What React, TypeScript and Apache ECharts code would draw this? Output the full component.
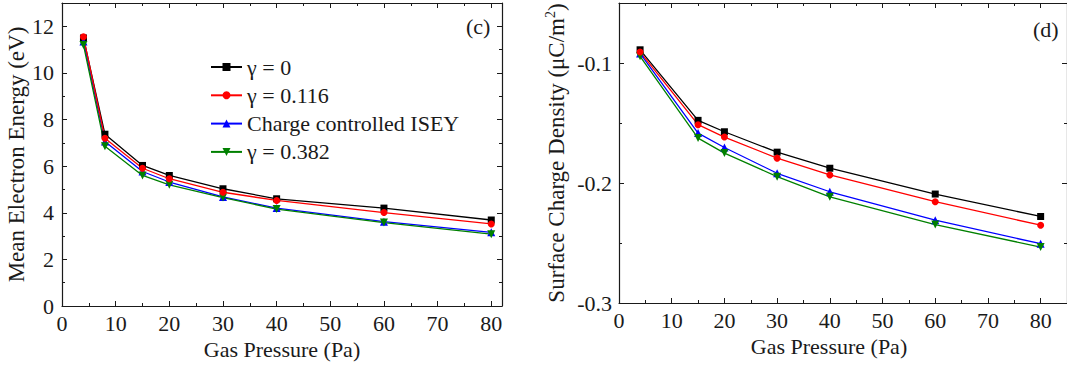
import React, { useEffect, useRef } from "react";
import * as echarts from "echarts";

const seriesNames = ["γ = 0", "γ = 0.116", "Charge controlled ISEY", "γ = 0.382"];
const seriesColors = ["#000000", "#ff0000", "#0000ff", "#008000"];
const seriesSymbols = ["rect", "circle", "triangle", "triangle"];
const seriesRotate = [0, 0, 0, 180];

// Panel (c): mean electron energy (eV)
const pressureC = [4, 8, 15, 20, 30, 40, 60, 80];
const energyG0 = [11.5, 7.37, 6.03, 5.6, 5.03, 4.6, 4.2, 3.69];
const energyG0116 = [11.55, 7.2, 5.91, 5.46, 4.88, 4.53, 4.01, 3.52];
const energyISEY = [11.35, 7.06, 5.77, 5.32, 4.68, 4.2, 3.62, 3.16];
const energyG0382 = [11.2, 6.85, 5.6, 5.2, 4.65, 4.16, 3.58, 3.08];

// Panel (d): surface charge density (µC/m²)
const pressureD = [4, 15, 20, 30, 40, 60, 80];
const chargeG0 = [-0.089, -0.1478, -0.1573, -0.1743, -0.1877, -0.2092, -0.2279];
const chargeG0116 = [-0.0908, -0.1514, -0.1617, -0.1793, -0.1933, -0.2156, -0.2352];
const chargeISEY = [-0.092, -0.1584, -0.1704, -0.1919, -0.2073, -0.231, -0.2506];
const chargeG0382 = [-0.0944, -0.1626, -0.1751, -0.1947, -0.2115, -0.2346, -0.2534];

const FONT = "Liberation Serif";
const INK = "#1a1a1a";

function axisSet(
  gridIndex: number,
  dim: "x" | "y",
  min: number,
  max: number,
  major: number,
  minor: number,
  opts: any
) {
  const isX = dim === "x";
  const posMain = isX ? "bottom" : "left";
  const posMirror = isX ? "top" : "right";
  const base = {
    type: "value",
    gridIndex,
    min,
    max,
    splitLine: { show: false },
    axisLine: { onZero: false, show: false, lineStyle: { color: INK, width: 1.2 } },
    axisTick: { inside: true, length: 5, lineStyle: { color: INK, width: 1 } },
    axisLabel: { show: false },
  };
  const mainAxis = {
    ...base,
    position: posMain,
    interval: major,
    axisLine: { ...base.axisLine, show: true },
    axisLabel: {
      show: true,
      fontFamily: FONT,
      fontSize: 22,
      color: INK,
      margin: opts.labelMargin,
      showMaxLabel: false,
      formatter: opts.formatter,
    },
    name: opts.name,
    nameLocation: "middle",
    nameGap: opts.nameGap,
    nameTextStyle: opts.nameTextStyle,
  };
  const mainMinor = {
    ...base,
    position: posMain,
    interval: minor,
    axisTick: { ...base.axisTick, length: 3 },
  };
  const mirror = {
    ...base,
    position: posMirror,
    interval: major,
    axisLine: { ...base.axisLine, show: true },
  };
  const mirrorMinor = {
    ...base,
    position: posMirror,
    interval: minor,
    axisTick: { ...base.axisTick, length: 3 },
  };
  return [mainAxis, mainMinor, mirror, mirrorMinor];
}

export default function App() {
  const ref = useRef<HTMLDivElement>(null);

  useEffect(() => {
    document.body.style.margin = "0";
    const chart = echarts.init(ref.current!, null, { renderer: "svg" });

    const titleStyle = { fontFamily: FONT, fontSize: 22, color: INK };

    const xAxes = [
      ...axisSet(0, "x", 0, 82, 10, 5, {
        name: "Gas Pressure (Pa)",
        nameGap: 30,
        labelMargin: 6,
        nameTextStyle: titleStyle,
      }),
      ...axisSet(1, "x", 0, 85, 10, 5, {
        name: "Gas Pressure (Pa)",
        nameGap: 30,
        labelMargin: 6,
        nameTextStyle: { ...titleStyle, padding: [0, 28, 0, 0] },
      }),
    ];
    const yAxes = [
      ...axisSet(0, "y", 0, 13, 2, 1, {
        name: "Mean Electron Energy (eV)",
        nameGap: 31,
        labelMargin: 8,
        nameTextStyle: { ...titleStyle, fontSize: 23 },
      }),
      ...axisSet(1, "y", -0.3, -0.05, 0.1, 0.05, {
        name: "{n|Surface Charge Density (μC/m}{sup|2}{n|)}",
        nameGap: 49,
        labelMargin: 7,
        formatter: (v: number) => v.toFixed(1),
        nameTextStyle: {
          ...titleStyle,
          fontSize: 23,
          rich: {
            n: { fontFamily: FONT, fontSize: 23, color: INK, lineHeight: 27 },
            sup: { fontFamily: FONT, fontSize: 14, color: INK, lineHeight: 14, verticalAlign: "top" },
          },
        },
      }),
    ];

    const leftData = [energyG0, energyG0116, energyISEY, energyG0382];
    const rightData = [chargeG0, chargeG0116, chargeISEY, chargeG0382];

    const mkSeries = (xs: number[], ys: number[], i: number, grid: number) => ({
      type: "line",
      name: seriesNames[i],
      xAxisIndex: grid * 4,
      yAxisIndex: grid * 4,
      data: xs.map((x, k) => [x, ys[k]]),
      symbol: seriesSymbols[i],
      symbolRotate: seriesRotate[i],
      symbolSize: seriesSymbols[i] === "triangle" ? 8 : 7,
      showAllSymbol: true,
      lineStyle: { color: seriesColors[i], width: 1.3 },
      itemStyle: { color: seriesColors[i] },
      z: 3,
    });

    const order = [0, 2, 3, 1];
    const series: any[] = [];
    order.forEach((i) => series.push(mkSeries(pressureC, leftData[i], i, 0)));
    order.forEach((i) => series.push(mkSeries(pressureD, rightData[i], i, 1)));

    chart.setOption({
      animation: false,
      backgroundColor: "#ffffff",
      grid: [
        { left: 62, right: 565, top: 3, bottom: 59, outerBoundsMode: "none", containLabel: false },
        { left: 619, right: 0, top: 3, bottom: 62, outerBoundsMode: "none", containLabel: false },
      ],
      xAxis: xAxes,
      yAxis: yAxes,
      legend: {
        data: seriesNames,
        orient: "vertical",
        left: 205,
        top: 51,
        itemWidth: 31,
        itemHeight: 10,
        itemGap: 6.3,
        selectedMode: false,
        textStyle: { fontFamily: FONT, fontSize: 22, color: INK, lineHeight: 22 },
      },
      graphic: [
        { type: "text", left: 466, top: 15, style: { text: "(c)", font: `22px "${FONT}"`, fill: INK } },
        { type: "text", left: 1033, top: 18, style: { text: "(d)", font: `22px "${FONT}"`, fill: INK } },
      ],
      series,
    });

    return () => chart.dispose();
  }, []);

  return <div ref={ref} style={{ width: 1067, height: 365 }} />;
}
